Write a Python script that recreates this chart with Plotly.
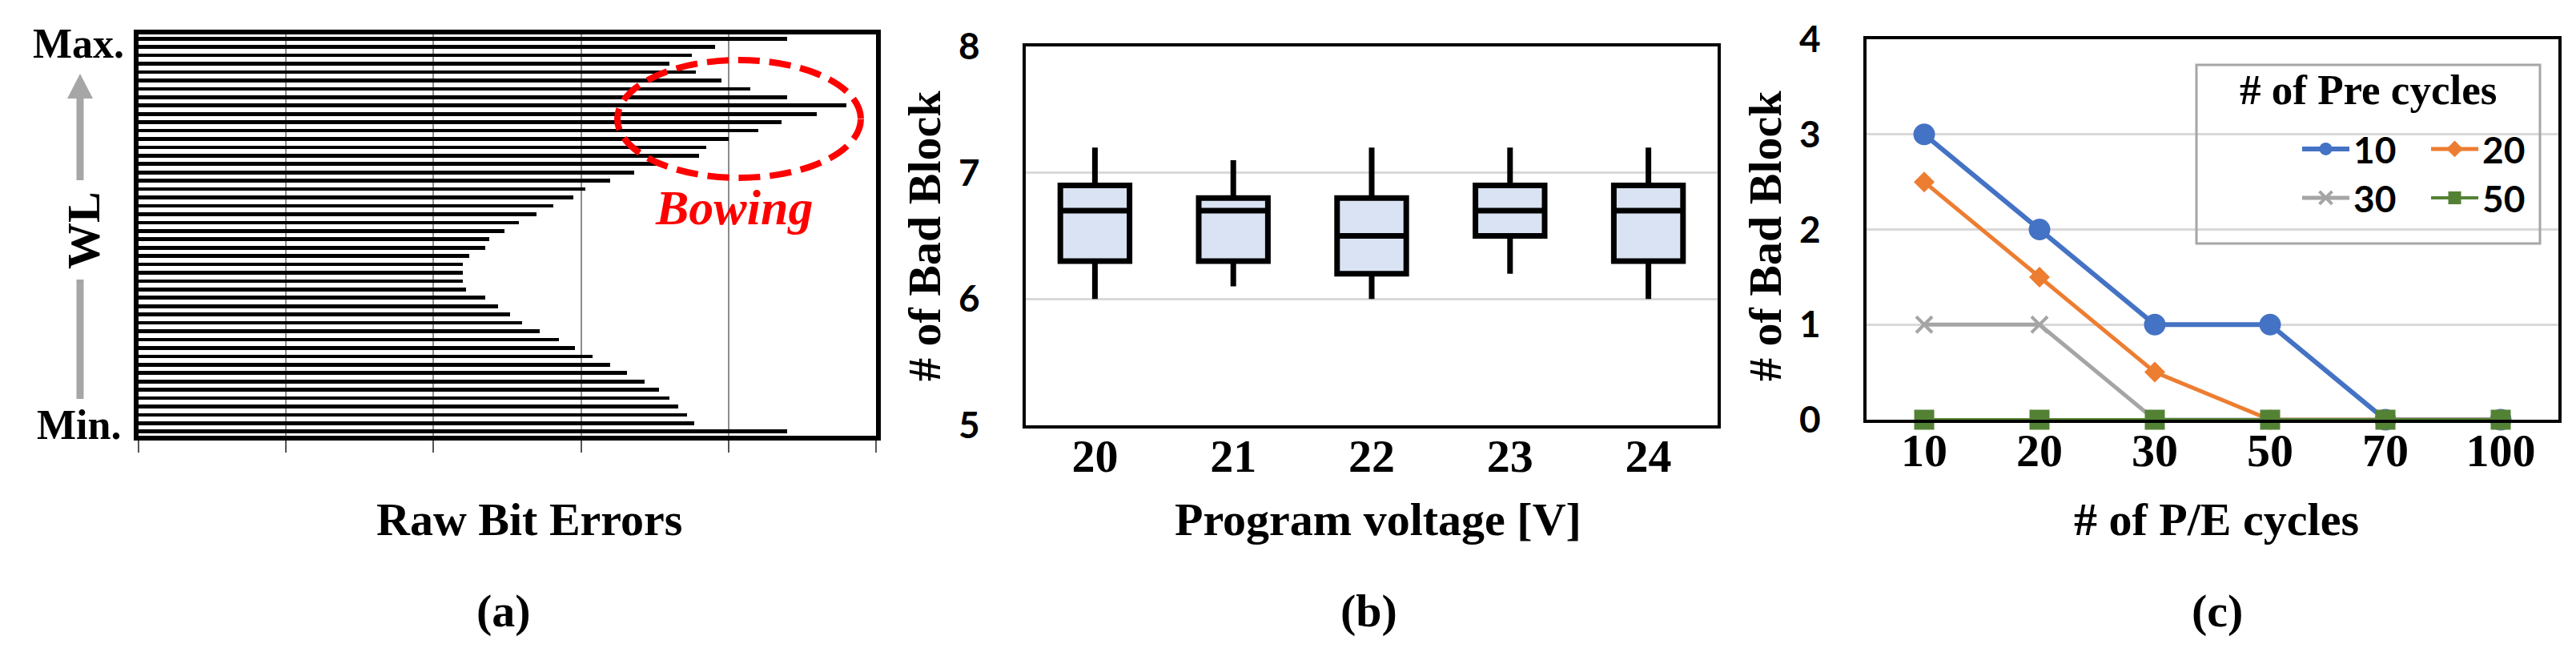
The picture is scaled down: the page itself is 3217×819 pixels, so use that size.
import plotly.graph_objects as go

W, H = 3217, 819

def px(x):
    return x / W

def py(y):
    return 1 - y / H

# ---------------- data ----------------
# (a) raw bit errors per WL, listed from Max. (top) to Min. (bottom)
wl_errors = [4.40, 3.91, 3.75, 3.60, 3.78, 3.95, 4.15, 4.40, 4.80, 4.60,
             4.36, 4.20, 4.00, 3.85, 3.80, 3.51, 3.36, 3.20, 3.03, 2.95,
             2.81, 2.70, 2.58, 2.48, 2.38, 2.35, 2.24, 2.20, 2.20, 2.20,
             2.22, 2.35, 2.44, 2.52, 2.60, 2.72, 2.85, 2.96, 3.08, 3.20,
             3.31, 3.43, 3.53, 3.60, 3.66, 3.72, 3.77, 4.40]
wl_index = list(range(len(wl_errors)))

# (b) bad blocks vs program voltage
voltages = ["20", "21", "22", "23", "24"]
bb_upper = [7.2, 7.1, 7.2, 7.2, 7.2]
bb_q3 = [6.9, 6.8, 6.8, 6.9, 6.9]
bb_median = [6.7, 6.7, 6.5, 6.7, 6.7]
bb_q1 = [6.3, 6.3, 6.2, 6.5, 6.3]
bb_lower = [6.0, 6.1, 6.0, 6.2, 6.0]

# (c) bad blocks vs P/E cycles for several pre-cycle counts
pe_cycles = ["10", "20", "30", "50", "70", "100"]
pre_10 = [3, 2, 1, 1, 0, 0]
pre_20 = [2.5, 1.5, 0.5, 0, 0, 0]
pre_30 = [1, 1, 0, 0, 0, 0]
pre_50 = [0, 0, 0, 0, 0, 0]

SERIF = "Liberation Serif"
SANS = "Lato"

fig = go.Figure()

# ---------------- (a) ----------------
fig.add_trace(go.Bar(
    x=wl_errors, y=wl_index, orientation="h",
    marker=dict(color="black", line=dict(width=0)),
    width=0.45, xaxis="x", yaxis="y", showlegend=False, hoverinfo="skip"))

# ---------------- (b) ----------------
fig.add_trace(go.Box(
    x=voltages, q1=bb_q1, median=bb_median, q3=bb_q3,
    lowerfence=bb_lower, upperfence=bb_upper,
    fillcolor="#DAE3F3", line=dict(color="black", width=7),
    whiskerwidth=0, width=0.5, boxpoints=False,
    xaxis="x2", yaxis="y2", showlegend=False, hoverinfo="skip"))

# ---------------- (c) ----------------
series = [
    ("10", pre_10, "#4472C4", dict(symbol="circle", size=27), 6, "legend"),
    ("20", pre_20, "#ED7D31", dict(symbol="diamond", size=20), 5, "legend2"),
    ("30", pre_30, "#A5A5A5", dict(symbol="x-thin", size=20,
                                    line=dict(width=4, color="#A5A5A5")), 5, "legend3"),
    ("50", pre_50, "#548235", dict(symbol="square", size=25), 4, "legend4"),
]
for name, vals, col, mk, lw, leg in series:
    m = dict(color=col)
    m.update(mk)
    fig.add_trace(go.Scatter(
        x=pe_cycles, y=vals, name=name, mode="lines+markers",
        line=dict(color=col, width=lw), marker=m, cliponaxis=False,
        xaxis="x3", yaxis="y3", legend=leg, hoverinfo="skip"))

# ---------------- axes ----------------
fig.update_layout(
    width=W, height=H, margin=dict(l=0, r=0, t=0, b=0, autoexpand=False),
    paper_bgcolor="white", plot_bgcolor="white",
    bargap=0,
    xaxis=dict(domain=[px(165), px(1086)], range=[0, 5], dtick=1,
               showgrid=True, gridcolor="#8C8C8C", gridwidth=1.5,
               zeroline=False, showticklabels=False,
               ticks="outside", ticklen=15, tickwidth=2, tickcolor="#555555",
               showline=True, linecolor="black", linewidth=6, mirror=True),
    yaxis=dict(domain=[py(536), py(35)], range=[47.5, -0.5],
               showgrid=False, zeroline=False, showticklabels=False,
               showline=True, linecolor="black", linewidth=6, mirror=True),
    xaxis2=dict(domain=[px(1273), px(2137)], type="category", range=[-0.5, 4.5],
                showgrid=False, zeroline=False,
                tickfont=dict(family=SERIF, size=58, color="black", weight="bold"),
                showline=True, linecolor="black", linewidth=4, mirror=True,
                ticklabelstandoff=-16, anchor="y2"),
    yaxis2=dict(domain=[py(523), py(50)], range=[5, 8], dtick=1,
                showgrid=True, gridcolor="#D9D9D9", gridwidth=2.5, zeroline=False,
                tickfont=dict(family=SANS, size=46, color="black", weight="bold"),
                showline=True, linecolor="black", linewidth=4, mirror=True,
                ticklabelstandoff=44, anchor="x2"),
    xaxis3=dict(domain=[px(2323), px(3187)], type="category", range=[-0.5, 5.5],
                showgrid=False, zeroline=False,
                tickfont=dict(family=SERIF, size=58, color="black", weight="bold"),
                showline=True, linecolor="black", linewidth=4, mirror=True,
                ticklabelstandoff=-16, anchor="y3"),
    yaxis3=dict(domain=[py(516), py(41)], range=[0, 4], dtick=1,
                showgrid=True, gridcolor="#D9D9D9", gridwidth=2.5, zeroline=False,
                tickfont=dict(family=SANS, size=46, color="black", weight="bold"),
                showline=True, linecolor="black", linewidth=4, mirror=True,
                ticklabelstandoff=44, anchor="x3"),
)

# legends (one per entry, arranged in a 2x2 grid)
leg_common = dict(bgcolor="rgba(0,0,0,0)", borderwidth=0, itemwidth=59,
                  font=dict(family=SANS, size=46, color="black", weight="bold"),
                  xanchor="left", yanchor="middle", itemclick=False,
                  itemdoubleclick=False, xref="container", yref="container")
fig.update_layout(
    legend=dict(x=px(2862), y=py(178), **leg_common),
    legend2=dict(x=px(3023), y=py(178), **leg_common),
    legend3=dict(x=px(2862), y=py(239), **leg_common),
    legend4=dict(x=px(3023), y=py(239), **leg_common),
)

shapes = []
# legend frame
shapes.append(dict(type="rect", xref="paper", yref="paper",
                   x0=px(2735), x1=px(3164), y0=py(296), y1=py(73),
                   line=dict(color="#A6A6A6", width=3), fillcolor="rgba(0,0,0,0)"))
# bowing ellipse
shapes.append(dict(type="circle", xref="paper", yref="paper",
                   x0=px(763), x1=px(1067), y0=py(214), y1=py(67),
                   line=dict(color="#FF0000", width=8, dash="27px,12px")))
# WL arrow (gray)
gray = "#A6A6A6"
shapes.append(dict(type="line", xref="paper", yref="paper",
                   x0=px(92), x1=px(92), y0=py(490), y1=py(341),
                   line=dict(color=gray, width=9)))
shapes.append(dict(type="line", xref="paper", yref="paper",
                   x0=px(92), x1=px(92), y0=py(217), y1=py(112),
                   line=dict(color=gray, width=9)))
shapes.append(dict(type="path", xref="paper", yref="paper",
                   path=f"M {px(76)} {py(115)} L {px(108)} {py(115)} L {px(92)} {py(84)} Z",
                   line=dict(color=gray, width=0), fillcolor=gray))
fig.update_layout(shapes=shapes)

ann = []
def text(x, y, s, size=58, family=SERIF, color="black", angle=0, style="normal"):
    ann.append(dict(x=px(x), y=py(y), xref="paper", yref="paper", text=s,
                    showarrow=False, xanchor="center", yanchor="middle",
                    textangle=angle,
                    font=dict(family=family, size=size, color=color,
                              weight="bold", style=style)))

text(90, 46, "Max.", size=52)
text(90, 522, "Min.", size=52)
text(96, 280, "WL", size=58, angle=-90)
text(908, 251, "Bowing", size=62, color="#FF0000", style="italic")
text(1146, 287, "# of Bad Block", size=58, angle=-90)
text(2196, 287, "# of Bad Block", size=58, angle=-90)
text(2949, 104, "# of Pre cycles", size=53)
text(653, 640, "Raw Bit Errors")
text(1713, 640, "Program voltage [V]")
text(2760, 640, "# of P/E cycles")
text(621, 754, "(a)")
text(1701, 754, "(b)")
text(2761, 754, "(c)")
fig.update_layout(annotations=ann)

fig.write_html("out.html")
